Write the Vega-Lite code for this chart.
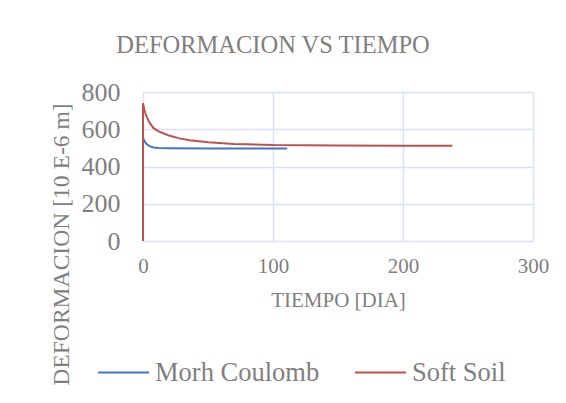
{
  "$schema": "https://vega.github.io/schema/vega-lite/v6.json",
  "autosize": "none",
  "width": 390,
  "height": 149,
  "padding": {"left": 143, "top": 92, "right": 33, "bottom": 162},
  "background": "white",
  "title": {
    "text": "DEFORMACION VS TIEMPO",
    "font": "'Liberation Serif', 'Times New Roman', serif",
    "fontSize": 24.5,
    "fontWeight": "normal",
    "color": "#7f7f7f",
    "anchor": "middle",
    "frame": "group",
    "dx": -65,
    "offset": 21
  },
  "config": {
    "view": {"stroke": null},
    "axis": {
      "labelFont": "'Liberation Serif', 'Times New Roman', serif",
      "titleFont": "'Liberation Serif', 'Times New Roman', serif",
      "labelColor": "#7f7f7f",
      "titleColor": "#7f7f7f",
      "titleFontWeight": "normal",
      "gridColor": "#D9E2F3",
      "gridWidth": 1.5,
      "domain": false,
      "ticks": false,
      "labelFlush": false
    },
    "legend": {
      "labelFont": "'Liberation Serif', 'Times New Roman', serif",
      "labelColor": "#7f7f7f"
    }
  },
  "data": {
    "values": [
      {"series": "Morh Coulomb", "i": 0, "t": 0, "d": 0},
      {"series": "Morh Coulomb", "i": 1, "t": 0, "d": 555},
      {"series": "Morh Coulomb", "i": 2, "t": 0.5, "d": 545},
      {"series": "Morh Coulomb", "i": 3, "t": 1.5, "d": 532},
      {"series": "Morh Coulomb", "i": 4, "t": 3, "d": 519},
      {"series": "Morh Coulomb", "i": 5, "t": 5, "d": 509},
      {"series": "Morh Coulomb", "i": 6, "t": 8, "d": 502},
      {"series": "Morh Coulomb", "i": 7, "t": 12, "d": 499},
      {"series": "Morh Coulomb", "i": 8, "t": 20, "d": 498},
      {"series": "Morh Coulomb", "i": 9, "t": 50, "d": 497},
      {"series": "Morh Coulomb", "i": 10, "t": 111, "d": 497},
      {"series": "Soft Soil", "i": 0, "t": 0, "d": 0},
      {"series": "Soft Soil", "i": 1, "t": 0, "d": 740},
      {"series": "Soft Soil", "i": 2, "t": 1, "d": 705},
      {"series": "Soft Soil", "i": 3, "t": 2, "d": 683},
      {"series": "Soft Soil", "i": 4, "t": 3, "d": 664},
      {"series": "Soft Soil", "i": 5, "t": 5, "d": 636},
      {"series": "Soft Soil", "i": 6, "t": 8, "d": 607},
      {"series": "Soft Soil", "i": 7, "t": 12, "d": 589},
      {"series": "Soft Soil", "i": 8, "t": 16, "d": 577},
      {"series": "Soft Soil", "i": 9, "t": 20, "d": 566},
      {"series": "Soft Soil", "i": 10, "t": 28, "d": 551},
      {"series": "Soft Soil", "i": 11, "t": 36, "d": 541},
      {"series": "Soft Soil", "i": 12, "t": 50, "d": 530},
      {"series": "Soft Soil", "i": 13, "t": 70, "d": 521},
      {"series": "Soft Soil", "i": 14, "t": 100, "d": 515},
      {"series": "Soft Soil", "i": 15, "t": 150, "d": 513},
      {"series": "Soft Soil", "i": 16, "t": 200, "d": 512},
      {"series": "Soft Soil", "i": 17, "t": 238, "d": 511}
    ]
  },
  "mark": {"type": "line", "strokeWidth": 2},
  "encoding": {
    "x": {
      "field": "t",
      "type": "quantitative",
      "scale": {"domain": [0, 300], "nice": false},
      "axis": {
        "values": [0, 100, 200, 300],
        "title": "TIEMPO [DIA]",
        "labelFontSize": 21,
        "labelPadding": 14,
        "titleFontSize": 21,
        "titleY": 59,
        "titleBaseline": "middle"
      }
    },
    "y": {
      "field": "d",
      "type": "quantitative",
      "scale": {"domain": [0, 800], "nice": false},
      "axis": {
        "values": [0, 200, 400, 600, 800],
        "title": "DEFORMACION [10 E-6 m]",
        "labelFontSize": 26,
        "labelPadding": 23,
        "titleFontSize": 23.6,
        "titleX": -82,
        "titleY": 152,
        "titleAlign": "center",
        "titleBaseline": "middle",
        "titleAngle": -90
      }
    },
    "color": {
      "field": "series",
      "type": "nominal",
      "scale": {"domain": ["Morh Coulomb", "Soft Soil"], "range": ["#4472C4", "#C0504D"]},
      "legend": {
        "title": null,
        "orient": "none",
        "direction": "horizontal",
        "legendX": -46,
        "legendY": 254,
        "symbolType": "stroke",
        "symbolSize": 2600,
        "symbolStrokeWidth": 2,
        "labelFontSize": 26.5,
        "labelOffset": 5,
        "columnPadding": 31,
        "labelLimit": 300
      }
    },
    "order": {"field": "i", "type": "quantitative"}
  }
}
